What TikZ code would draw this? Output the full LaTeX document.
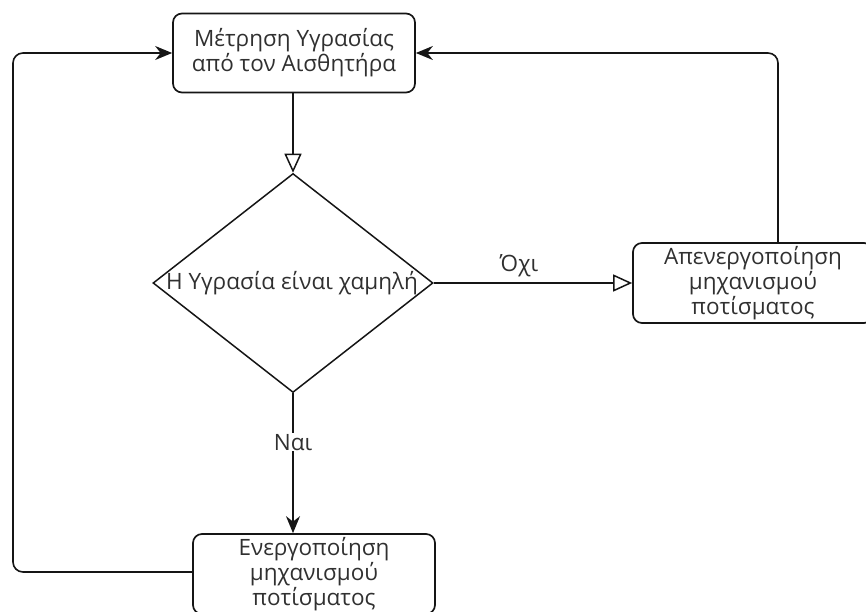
\documentclass[tikz,border=0pt]{standalone}
\usepackage{fontspec}
\setmainfont{Open Sans}
\usetikzlibrary{arrows.meta,shapes.geometric}
\definecolor{txt}{HTML}{303030}
\definecolor{ln}{HTML}{151515}
\begin{document}
\begin{tikzpicture}[x=1pt,y=-1pt,
  box/.style={draw=ln,line width=1.7pt,rounded corners=9pt,minimum width=242pt,minimum height=79pt,inner sep=0pt,align=center,text=txt,font=\fontsize{22.5}{25}\selectfont},
  dia/.style={draw=ln,line width=1.5pt,shape=diamond,minimum width=280pt,minimum height=219pt,inner sep=0pt},
  lab/.style={text=txt,font=\fontsize{22.5}{25}\selectfont,inner sep=1pt},
  conn/.style={draw=ln,line width=1.6pt},
  fa/.style={-{Stealth[length=17pt,width=14pt]}},
  oa/.style={-{Triangle[open,length=19pt,width=17pt,line width=1.5pt]}}
]
\useasboundingbox (0,0) rectangle (866,612);
\node[box] (meas) at (294,53) {Μέτρηση Υγρασίας\\από τον Αισθητήρα};
\node[dia] (dec) at (293,283) {};
\node[lab] (dect) at (292,283) {Η Υγρασία είναι χαμηλή};
\node[box,minimum width=240pt,minimum height=80pt] (off) at (753,283) {Απενεργοποίηση\\μηχανισμού\\ποτίσματος};
\node[box,minimum height=80pt] (on) at (314,574) {Ενεργοποίηση\\μηχανισμού\\ποτίσματος};
\coordinate (lc) at (13,53);
\coordinate (rc) at (778,53);

\draw[conn,oa] (meas.south -| dec.north) -- (dec.north);
\draw[conn,oa] (dec.east) -- node[lab,above=4pt,pos=0.43] (no) {Όχι} (off.west);
\draw[conn,fa] (dec.south) -- node[lab,pos=0.35,fill=white] (yes) {Ναι} (dec.south |- on.north);
\draw[conn,fa,rounded corners=10pt] (on.west |- 0,572) -| (lc) -- (meas.west);
\draw[conn,fa,rounded corners=10pt] (rc |- off.north) |- (meas.east);
\end{tikzpicture}
\end{document}
